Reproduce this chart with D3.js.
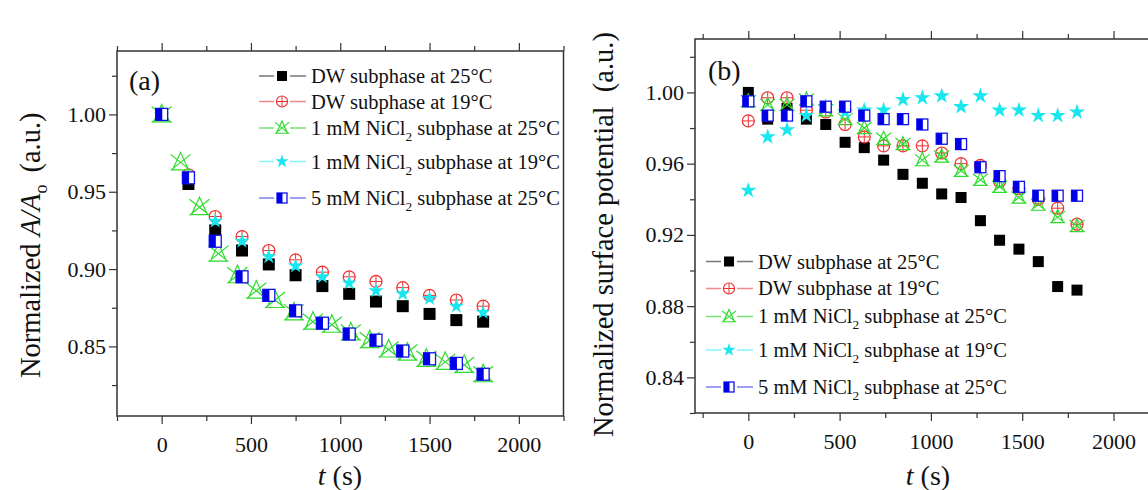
<!DOCTYPE html>
<html>
<head>
<meta charset="utf-8">
<script src="https://cdn.jsdelivr.net/npm/d3@7"></script>
<style>
  body { margin: 0; background: #fff; }
  text { font-family: "Liberation Serif", "Times New Roman", serif; fill: #111; }
</style>
</head>
<body>
<svg id="chart" width="1148" height="490"></svg>
<script>
// ---- data ----
const seriesKeys = ["dw25", "dw19", "ni1_25", "ni1_19", "ni5_25"];

// panel (a): area ratio
const tA      = [0, 150, 300, 450, 600, 750, 900, 1050, 1200, 1350, 1500, 1650, 1800];
const aDw25   = [1.000, 0.955, 0.925, 0.912, 0.903, 0.896, 0.889, 0.884, 0.879, 0.876, 0.871, 0.867, 0.866];
const aDw19   = [1.000, 0.961, 0.934, 0.921, 0.912, 0.906, 0.898, 0.895, 0.892, 0.888, 0.883, 0.880, 0.876];
const aNi1_19 = [1.000, 0.959, 0.931, 0.918, 0.908, 0.902, 0.895, 0.891, 0.886, 0.884, 0.881, 0.876, 0.872];
const aNi5_25 = [1.000, 0.959, 0.918, 0.895, 0.883, 0.873, 0.865, 0.858, 0.854, 0.847, 0.842, 0.839, 0.832];
const tAg     = [0, 106, 212, 318, 424, 530, 635, 741, 847, 953, 1059, 1165, 1271, 1376, 1482, 1588, 1694, 1800];
const aNi1_25 = [1.000, 0.969, 0.940, 0.910, 0.896, 0.886, 0.880, 0.872, 0.866, 0.864, 0.859, 0.854, 0.848, 0.846, 0.842, 0.840, 0.838, 0.832];

// panel (b): surface potential
const tB      = [0, 106, 212, 318, 424, 530, 635, 741, 847, 953, 1059, 1165, 1271, 1376, 1482, 1588, 1694, 1800];
const bDw25   = [1.000, 0.985, 0.991, 0.985, 0.982, 0.972, 0.969, 0.962, 0.954, 0.949, 0.943, 0.941, 0.928, 0.917, 0.912, 0.905, 0.891, 0.889];
const bDw19   = [0.984, 0.997, 0.997, 0.990, 0.989, 0.982, 0.975, 0.970, 0.970, 0.970, 0.966, 0.960, 0.959, 0.950, 0.946, 0.940, 0.935, 0.926];
const bNi1_25 = [0.995, 0.993, 0.993, 0.996, 0.990, 0.985, 0.980, 0.974, 0.971, 0.962, 0.964, 0.956, 0.951, 0.947, 0.941, 0.937, 0.930, 0.925];
const bNi1_19 = [0.945, 0.975, 0.979, 0.987, 0.992, 0.989, 0.990, 0.990, 0.996, 0.997, 0.998, 0.992, 0.998, 0.990, 0.990, 0.987, 0.987, 0.989];
const bNi5_25 = [0.995, 0.987, 0.987, 0.995, 0.992, 0.992, 0.987, 0.985, 0.985, 0.982, 0.974, 0.971, 0.958, 0.953, 0.947, 0.942, 0.942, 0.942];

const xMajor = [0, 500, 1000, 1500, 2000];
const xMinor = [-250, 250, 750, 1250, 1750, 2250];
const yMajorA = [0.85, 0.90, 0.95, 1.00];
const yMinorA = [0.825, 0.875, 0.925, 0.975, 1.025];
const yMajorB = [0.84, 0.88, 0.92, 0.96, 1.00];
const yMinorB = [0.82, 0.86, 0.90, 0.94, 0.98, 1.02];

const legendLabels = [
  ["DW subphase at 25°C"],
  ["DW subphase at 19°C"],
  ["1 mM NiCl", "2", " subphase at 25°C"],
  ["1 mM NiCl", "2", " subphase at 19°C"],
  ["5 mM NiCl", "2", " subphase at 25°C"]
];
const markOf  = { dw25: "square", dw19: "circle", ni1_25: "trix", ni1_19: "star", ni5_25: "half" };
const lineCol = { dw25: "#777", dw19: "#f08a8a", ni1_25: "#77e077", ni1_19: "#88f4f4", ni5_25: "#8080f0" };

const svg = d3.select("#chart");

// ---- markers ----
function mark(g, kind, s) {
  if (kind === "square") {
    g.append("rect").attr("x", -s/2).attr("y", -s/2).attr("width", s).attr("height", s).attr("fill", "#000");
  } else if (kind === "circle") {
    const r = s/2;
    g.append("circle").attr("r", r).attr("fill", "none").attr("stroke", "#f03030").attr("stroke-width", 1.2);
    g.append("path").attr("d", `M${-r},0H${r}M0,${-r}V${r}`).attr("stroke", "#f03030").attr("stroke-width", 1);
  } else if (kind === "trix") {
    const h = s/2;
    g.append("path")
      .attr("d", `M0,${-h}L${-h*0.8},${h*0.75}L${h*0.8},${h*0.75}Z M${-h},${-h*0.8}L${h},${h*0.8}M${h},${-h*0.8}L${-h},${h*0.8}`)
      .attr("fill", "none").attr("stroke", "#2ddc2d").attr("stroke-width", 1.2);
  } else if (kind === "star") {
    const R = s/2;
    g.append("path").attr("d", d3.symbol(d3.symbolStar, R * R / 0.8908130915292852)()).attr("fill", "#1ae6ee");
  } else if (kind === "half") {
    g.append("rect").attr("x", -s/2).attr("y", -s/2).attr("width", s).attr("height", s)
      .attr("fill", "#fff").attr("stroke", "#1010f0").attr("stroke-width", 1.3);
    g.append("rect").attr("x", -s/2).attr("y", -s/2).attr("width", s*0.55).attr("height", s).attr("fill", "#0000e8");
  }
}

function panel(opt) {
  const x = d3.scaleLinear().domain(opt.xd).range(opt.xr);
  const y = d3.scaleLinear().domain(opt.yd).range(opt.yr);
  const g = svg.append("g");

  // data
  opt.series.forEach(s => {
    const pts = s.t.map((t, i) => ({ t: t, v: s.v[i] }));
    g.append("g").selectAll("g").data(pts).join("g")
      .attr("transform", d => `translate(${x(d.t)},${y(d.v)})`)
      .each(function() { mark(d3.select(this), markOf[s.key], opt.size[s.key]); });
  });

  // axes
  const styleAxis = (a) => {
    a.select(".domain").remove();
    a.selectAll("line").attr("stroke", "#333").attr("stroke-width", 1.2);
    a.selectAll("text").attr("font-size", 22).attr("fill", "#111");
  };
  const bottom = g.append("g").attr("transform", `translate(0,${opt.yr[0]})`);
  bottom.call(d3.axisBottom(x).tickValues(xMajor).tickSize(8).tickPadding(12).tickFormat(d3.format("d"))).call(styleAxis);
  bottom.append("g").call(d3.axisBottom(x).tickValues(xMinor).tickSize(5).tickFormat("")).call(styleAxis);
  const top = g.append("g").attr("transform", `translate(0,${opt.yr[1]})`);
  top.call(d3.axisTop(x).tickValues(xMajor).tickSize(8).tickFormat("")).call(styleAxis);
  top.append("g").call(d3.axisTop(x).tickValues(xMinor).tickSize(5).tickFormat("")).call(styleAxis);
  const left = g.append("g").attr("transform", `translate(${opt.xr[0]},0)`);
  left.call(d3.axisLeft(y).tickValues(opt.yMajor).tickSize(8).tickPadding(3).tickFormat(d3.format(".2f"))).call(styleAxis);
  left.append("g").call(d3.axisLeft(y).tickValues(opt.yMinor).tickSize(5).tickFormat("")).call(styleAxis);

  g.append("rect")
    .attr("x", opt.xr[0]).attr("y", opt.yr[1])
    .attr("width", opt.xr[1] - opt.xr[0]).attr("height", opt.yr[0] - opt.yr[1])
    .attr("fill", "none").attr("stroke", "#333").attr("stroke-width", 1.5);

  // panel letter
  g.append("text").attr("x", opt.letter[0]).attr("y", opt.letter[1]).attr("font-size", 28).text(opt.letter[2]);

  // legend
  const lg = g.append("g");
  seriesKeys.forEach((k, i) => {
    const sy = opt.leg.sy[i], ty = opt.leg.ty[i];
    const x0 = opt.leg.x0, xm = x0 + 23, x1 = x0 + 47;
    lg.append("path").attr("d", `M${x0},${sy}H${xm - 8}M${xm + 8},${sy}H${x1}`)
      .attr("stroke", lineCol[k]).attr("stroke-width", 1.3);
    mark(lg.append("g").attr("transform", `translate(${xm},${sy})`), markOf[k], opt.leg.size[k]);
    const t = lg.append("text").attr("x", x1 + 5).attr("y", ty).attr("font-size", opt.leg.fs);
    const parts = legendLabels[i];
    t.append("tspan").text(parts[0]);
    if (parts.length > 1) {
      t.append("tspan").attr("font-size", opt.leg.fs * 0.65).attr("dy", 6).text(parts[1]);
      t.append("tspan").attr("dy", -6).text(parts[2]);
    }
  });

  // x title
  const xt = g.append("text").attr("x", opt.xTitle[0]).attr("y", opt.xTitle[1])
    .attr("text-anchor", "middle").attr("font-size", 28);
  xt.append("tspan").attr("font-style", "italic").text("t");
  xt.append("tspan").text(" (s)");
  return { x, y };
}

const sizeA = { dw25: 12, dw19: 12, ni1_25: 20, ni1_19: 16, ni5_25: 12 };
const sizeB = { dw25: 11, dw19: 12, ni1_25: 15, ni1_19: 17, ni5_25: 11 };
const sizeL = { dw25: 10, dw19: 11, ni1_25: 14, ni1_19: 14, ni5_25: 10 };

panel({
  xd: [-250, 2250], xr: [117, 563.5],
  yd: [0.805, 1.041], yr: [416, 51],
  yMajor: yMajorA, yMinor: yMinorA,
  size: sizeA,
  series: [
    { key: "dw25", t: tA, v: aDw25 },
    { key: "dw19", t: tA, v: aDw19 },
    { key: "ni1_25", t: tAg, v: aNi1_25 },
    { key: "ni1_19", t: tA, v: aNi1_19 },
    { key: "ni5_25", t: tA, v: aNi5_25 }
  ],
  letter: [129, 90, "(a)"],
  leg: { x0: 259, sy: [76, 101.5, 128, 161.5, 198], ty: [83, 108.5, 135, 168.5, 205], fs: 20.5, size: sizeL },
  xTitle: [340, 485]
});

panel({
  xd: [-292, 2300], xr: [695, 1168.3],
  yd: [0.82, 1.03], yr: [413, 39],
  yMajor: yMajorB, yMinor: yMinorB,
  size: sizeB,
  series: [
    { key: "dw25", t: tB, v: bDw25 },
    { key: "dw19", t: tB, v: bDw19 },
    { key: "ni1_25", t: tB, v: bNi1_25 },
    { key: "ni1_19", t: tB, v: bNi1_19 },
    { key: "ni5_25", t: tB, v: bNi5_25 }
  ],
  letter: [708, 80, "(b)"],
  leg: { x0: 706, sy: [261.5, 288.5, 316.5, 350, 387], ty: [268.5, 295, 322.5, 357, 393.5], fs: 20.5, size: sizeL },
  xTitle: [928, 485]
});

// y titles
const yA = svg.append("text").attr("transform", "translate(40,378) rotate(-90)")
  .attr("text-anchor", "start").attr("font-size", 28.5);
yA.append("tspan").text("Normalized ");
yA.append("tspan").attr("font-style", "italic").text("A/A");
yA.append("tspan").attr("font-size", 18).attr("dy", 7).text("o");
yA.append("tspan").attr("dy", -7).attr("dx", 12).text("(a.u.)");

const yB = svg.append("text").attr("transform", "translate(613,437) rotate(-90)")
  .attr("text-anchor", "start").attr("font-size", 28.5);
yB.append("tspan").text("Normalized surface potential");
yB.append("tspan").attr("dx", 14).text("(a.u.)");
</script>
</body>
</html>
